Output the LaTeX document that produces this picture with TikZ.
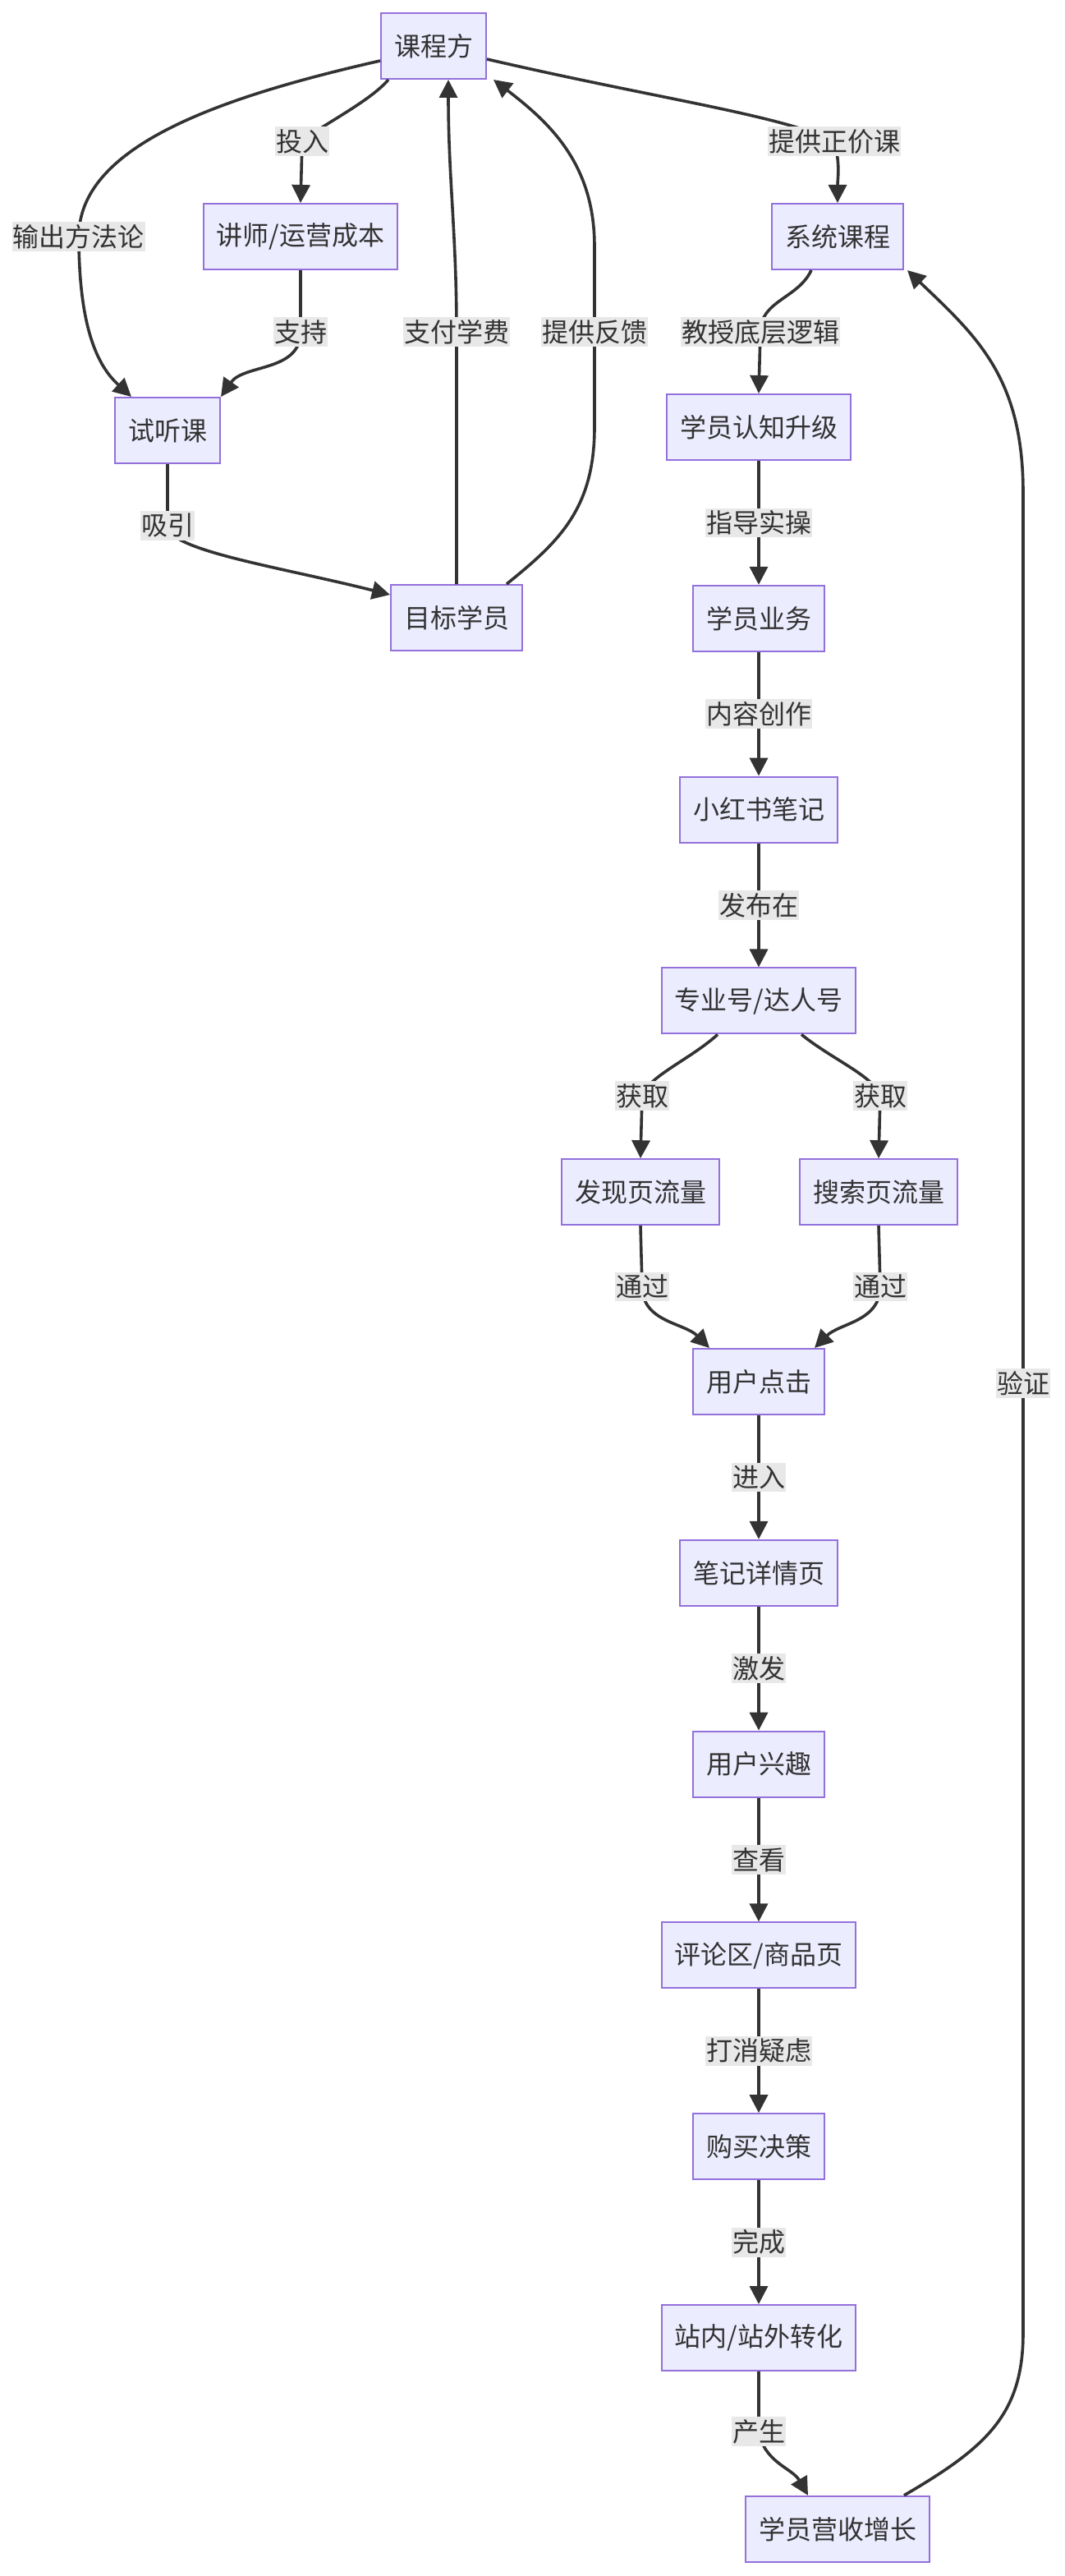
\documentclass[tikz,border=0pt]{standalone}
\usepackage{fontspec}
\setmainfont{Noto Sans CJK SC}
\usetikzlibrary{arrows.meta, positioning}
\definecolor{nodefill}{HTML}{ECECFF}
\definecolor{nodeline}{HTML}{9370DB}
\definecolor{edgeline}{HTML}{333333}
\definecolor{lblfill}{HTML}{E8E8E8}
\definecolor{textgray}{HTML}{333333}

\begin{document}
\begin{tikzpicture}[
        x=1pt, y=1pt,
        node distance=75.4pt,
        box/.style={rectangle, draw=nodeline, line width=1pt, fill=nodefill, text=textgray, minimum height=40pt, inner xsep=8pt, inner ysep=2pt, font=\fontsize{16pt}{19pt}\selectfont},
        lbl/.style={fill=lblfill, text=textgray, inner xsep=0.5pt, inner ysep=1.5pt, font=\fontsize{16pt}{19pt}\selectfont},
        arrow/.style={-{Triangle[length=11pt,width=11pt]}, line width=1.8pt, draw=edgeline}
    ]
        \useasboundingbox (0,0) rectangle (648,-1568);

        \node[box] (provider) at (264,-28) {课程方};
        \node[box] (cost) at (183,-144) {讲师/运营成本};
        \node[box] (sysc) at (510,-144) {系统课程};
        \node[box] (trial) at (102,-262) {试听课};
        \node[box] (target) at (278,-376) {目标学员};
        \node[box] (cognit) at (462,-260) {学员认知升级};
        \node[box, below=of cognit] (biz) {学员业务};
        \node[box, below=of biz] (note) {小红书笔记};
        \node[box, below=of note] (acct) {专业号/达人号};
        \node[box, below=of acct, xshift=-72pt] (discover) {发现页流量};
        \node[box, below=of acct, xshift=73pt] (search) {搜索页流量};
        \node[box, below=190.8pt of acct] (click) {用户点击};
        \node[box, below=of click] (detail) {笔记详情页};
        \node[box, below=of detail] (interest) {用户兴趣};
        \node[box, below=of interest] (review) {评论区/商品页};
        \node[box, below=of review] (decide) {购买决策};
        \node[box, below=of decide] (convert) {站内/站外转化};
        \node[box, below=of convert, xshift=48pt] (growth) {学员营收增长};

        \draw[arrow] ([yshift=-9pt]provider.west) .. controls (130,-60) and (48,-90) .. (48,-144) node[lbl] {输出方法论} .. controls (48,-205) and (62,-225) .. ([xshift=-22pt]trial.north);
        \draw[arrow] ([xshift=5pt]provider.south west) .. controls (225,-62) and (196,-76) .. (184,-86) node[lbl] {投入} -- (cost.north);
        \draw[arrow] (cost.south) -- (183,-202) node[lbl] {支持} to[out=-90,in=55] (trial.north east);
        \draw[arrow] (trial.south) -- (102,-320) node[lbl] {吸引} .. controls (102,-335) and (170,-345) .. ([yshift=14pt]target.west);
        \draw[arrow] (target.north) -- (278,-202) node[lbl] {支付学费} to[out=90,in=-90] ([xshift=9pt]provider.south);
        \draw[arrow] ([xshift=-10pt]target.north east) .. controls (340,-330) and (362,-310) .. (362,-260) -- (362,-202) node[lbl] {提供反馈} -- (362,-150) .. controls (362,-100) and (335,-75) .. ([xshift=4pt]provider.south east);
        \draw[arrow] ([yshift=-8pt]provider.east) .. controls (400,-60) and (475,-70) .. (508,-86) node[lbl] {提供正价课} to[out=-75,in=90] (sysc.north);
        \draw[arrow] ([xshift=-16pt]sysc.south) to[out=-115,in=90] (463,-202) node[lbl] {教授底层逻辑} -- (cognit.north);

        \draw[arrow] (cognit) -- node[lbl] {指导实操} (biz);
        \draw[arrow] (biz) -- node[lbl] {内容创作} (note);
        \draw[arrow] (note) -- node[lbl] {发布在} (acct);
        \draw[arrow] ([xshift=-25pt]acct.south) .. controls (420,-645) and (395,-655) .. (391,-667) node[lbl] {获取} -- (discover.north);
        \draw[arrow] ([xshift=26pt]acct.south) .. controls (507,-645) and (532,-655) .. (536,-667) node[lbl] {获取} -- (search.north);
        \draw[arrow] (discover.south) -- (391,-783) node[lbl] {通过} to[out=-90,in=135] ([xshift=-30pt]click.north);
        \draw[arrow] (search.south) -- (536,-783) node[lbl] {通过} to[out=-90,in=45] ([xshift=34pt]click.north);
        \draw[arrow] (click) -- node[lbl] {进入} (detail);
        \draw[arrow] (detail) -- node[lbl] {激发} (interest);
        \draw[arrow] (interest) -- node[lbl] {查看} (review);
        \draw[arrow] (review) -- node[lbl] {打消疑虑} (decide);
        \draw[arrow] (decide) -- node[lbl] {完成} (convert);
        \draw[arrow] (convert.south) -- (462,-1480) node[lbl] {产生} to[out=-80,in=120] ([xshift=-18pt]growth.north);
        \draw[arrow] ([xshift=-16pt]growth.north east) .. controls (600,-1490) and (623,-1470) .. (623,-1420) -- (623,-842) node[lbl] {验证} -- (623,-300) .. controls (623,-230) and (595,-205) .. ([xshift=2pt]sysc.south east);
    \end{tikzpicture}
\end{document}
